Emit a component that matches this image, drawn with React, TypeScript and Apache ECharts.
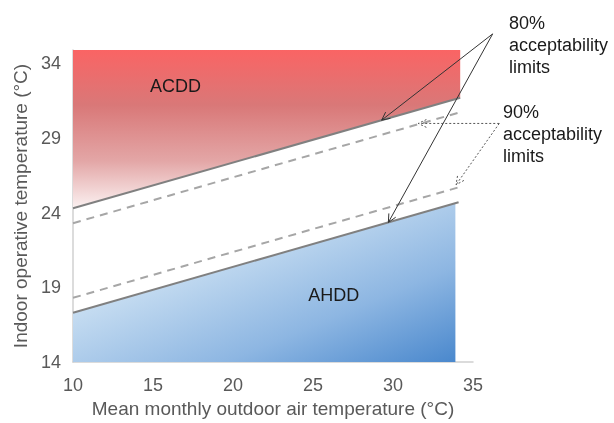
import React, { useEffect, useRef } from "react";
import * as echarts from "echarts";

// Axis settings
const xMin = 10;
const xMax = 35;
const xStep = 5;
const yMin = 14;
const yMax = 34.9;
const yStep = 5;

// Comfort-limit lines (endpoints)
const upper80 = [[10, 24.3], [34.2, 31.7]];
const upper90 = [[10, 23.3], [34.1, 30.7]];
const lower90 = [[10, 18.3], [34.1, 25.7]];
const lower80 = [[10, 17.3], [34.1, 24.7]];

// Shaded zones
const acddEdge = [[10, 24.3], [34.2, 31.7]];
const ahddEdge = [[10, 17.3], [33.9, 24.65]];

// Zone labels
const zoneLabels = [
  { text: "ACDD", at: [16.4, 32.5] },
  { text: "AHDD", at: [26.3, 18.5] },
];

// Annotation arrows (data coordinates)
const arrow80From = [36.23, 35.98];
const arrow80To = [[29.29, 30.2], [29.71, 23.35]];
const arrow90From = [36.64, 29.98];
const arrow90To = [[31.58, 29.98], [33.94, 25.87]];

const note80 = "80%\nacceptability\nlimits";
const note90 = "90%\nacceptability\nlimits";

const FONT = "Arial, 'Liberation Sans', Helvetica, sans-serif";

export default function App() {
  const ref = useRef<HTMLDivElement>(null);
  useEffect(() => {
    const chart = echarts.init(ref.current!, null, { renderer: "svg" });
    const solid = { color: "#808080", width: 2, type: "solid" as const };
    const dashed = { color: "#a6a6a6", width: 2, type: [8, 6] as any };
    const option: any = {
      animation: false,
      textStyle: { fontFamily: FONT },
      grid: { left: 73, right: 141, top: 50, bottom: 60 },
      xAxis: {
        type: "value",
        min: xMin,
        max: xMax,
        interval: xStep,
        name: "Mean monthly outdoor air temperature (°C)",
        nameLocation: "middle",
        nameGap: 37,
        nameTextStyle: { fontSize: 19, color: "#595959", fontFamily: FONT },
        axisLine: { show: true, lineStyle: { color: "#d0d0d0", width: 1.5 } },
        axisTick: { show: false },
        splitLine: { show: false },
        axisLabel: { fontSize: 18, color: "#595959", margin: 14, fontFamily: FONT },
      },
      yAxis: {
        type: "value",
        min: yMin,
        max: yMax,
        interval: yStep,
        name: "Indoor operative temperature (°C)",
        nameLocation: "middle",
        nameGap: 42,
        nameTextStyle: { fontSize: 19, color: "#595959", fontFamily: FONT },
        axisLine: { show: true, lineStyle: { color: "#d0d0d0", width: 1.5 } },
        axisTick: { show: false },
        splitLine: { show: false },
        axisLabel: { fontSize: 18, color: "#595959", margin: 12, showMaxLabel: false, fontFamily: FONT },
      },
      series: [
        {
          type: "line",
          data: acddEdge,
          showSymbol: false,
          lineStyle: { width: 0 },
          areaStyle: {
            origin: "end",
            opacity: 1,
            color: new echarts.graphic.LinearGradient(0, 0, 0, 1, [
              { offset: 0, color: "#fa6464" },
              { offset: 0.35, color: "#d97878" },
              { offset: 0.7, color: "#e3a6a6" },
              { offset: 1, color: "#fbf1f1" },
            ]),
          },
          z: 1,
        },
        {
          type: "line",
          data: ahddEdge,
          showSymbol: false,
          lineStyle: { width: 0 },
          areaStyle: {
            origin: "start",
            opacity: 1,
            color: new echarts.graphic.LinearGradient(0, 0, 1, 1, [
              { offset: 0, color: "#f2f7fc" },
              { offset: 0.35, color: "#c5dcf1" },
              { offset: 0.7, color: "#8db6e2" },
              { offset: 1, color: "#4a88cd" },
            ]),
          },
          z: 1,
        },
        { type: "line", data: upper80, showSymbol: false, lineStyle: solid, z: 3 },
        { type: "line", data: upper90, showSymbol: false, lineStyle: dashed, z: 3 },
        { type: "line", data: lower90, showSymbol: false, lineStyle: dashed, z: 3 },
        { type: "line", data: lower80, showSymbol: false, lineStyle: solid, z: 3 },
      ],
    };
    chart.setOption(option);

    const px = (p: number[]) => chart.convertToPixel({ gridIndex: 0 }, p) as number[];
    const elements: any[] = [];
    const arrow = (from: number[], to: number[], stroke: string, dash: any) => {
      const a = px(from);
      const b = px(to);
      elements.push({
        type: "line",
        shape: { x1: a[0], y1: a[1], x2: b[0], y2: b[1] },
        style: { stroke, lineWidth: 1, lineDash: dash },
        z: 10,
      });
      const ang = Math.atan2(a[1] - b[1], a[0] - b[0]);
      const len = 9;
      const spread = 0.45;
      const p1 = [b[0] + len * Math.cos(ang + spread), b[1] + len * Math.sin(ang + spread)];
      const p2 = [b[0] + len * Math.cos(ang - spread), b[1] + len * Math.sin(ang - spread)];
      elements.push({
        type: "polyline",
        shape: { points: [p1, b, p2] },
        style: { stroke, lineWidth: 1, fill: "none", lineDash: dash },
        z: 10,
      });
    };
    arrow80To.forEach((t) => arrow(arrow80From, t, "#333333", null));
    arrow90To.forEach((t) => arrow(arrow90From, t, "#555555", [2, 2]));

    zoneLabels.forEach((z) => {
      const p = px(z.at);
      elements.push({
        type: "text",
        x: p[0],
        y: p[1],
        style: { text: z.text, fontSize: 18, fill: "#1a1a1a", align: "center", verticalAlign: "middle", fontFamily: FONT },
        z: 10,
      });
    });
    elements.push({
      type: "text",
      x: 509,
      y: 12,
      style: { text: note80, fontSize: 18, lineHeight: 22, fill: "#1a1a1a", fontFamily: FONT },
      z: 10,
    });
    elements.push({
      type: "text",
      x: 503,
      y: 101,
      style: { text: note90, fontSize: 18, lineHeight: 22, fill: "#1a1a1a", fontFamily: FONT },
      z: 10,
    });
    chart.setOption({ graphic: elements });
    return () => chart.dispose();
  }, []);
  return <div ref={ref} style={{ position: "fixed", left: 0, top: 0, width: 614, height: 423 }} />;
}
